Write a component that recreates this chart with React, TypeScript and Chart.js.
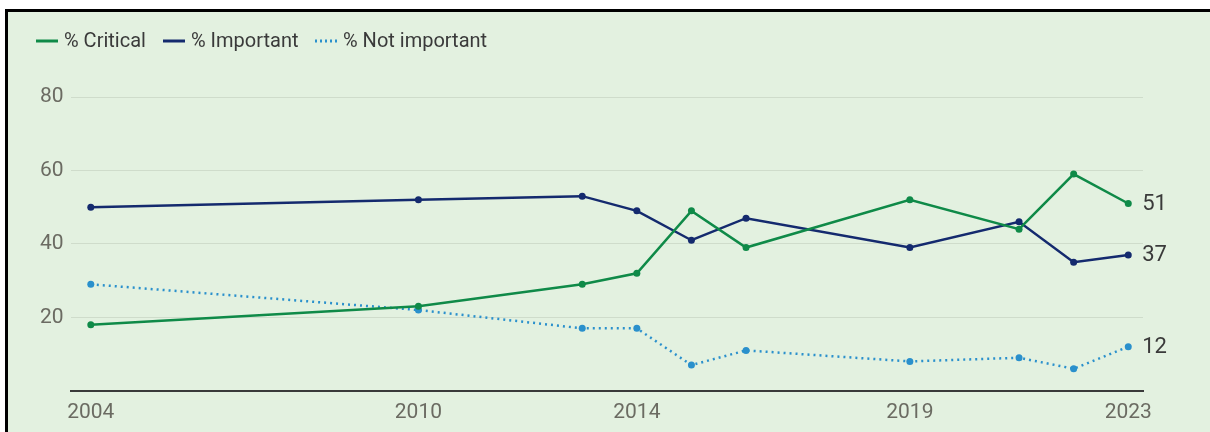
import React, { useEffect, useRef } from "react";
import { Chart, registerables } from "chart.js";

Chart.register(...registerables);

const years = [2004, 2010, 2013, 2014, 2015, 2016, 2019, 2021, 2022, 2023];
const critical = [18, 23, 29, 32, 49, 39, 52, 44, 59, 51];
const important = [50, 52, 53, 49, 41, 47, 39, 46, 35, 37];
const notImportant = [29, 22, 17, 17, 7, 11, 8, 9, 6, 12];
const xTickYears = [2004, 2010, 2014, 2019, 2023];
const yTickValues = [20, 40, 60, 80];
const seriesNames = ["% Critical", "% Important", "% Not important"];

const GREEN = "#0f8a48";
const NAVY = "#142a6e";
const BLUE = "#2a90cc";
const BG = "#e3f1e0";
const FONT = "Roboto, 'Liberation Sans', sans-serif";

const toPoints = (vals: number[]) => vals.map((v, i) => ({ x: years[i], y: v }));

const customPlugin = {
  id: "custom",
  afterDraw(chart: any) {
    const ctx = chart.ctx;
    ctx.save();
    const items = [
      { label: seriesNames[0], color: GREEN, dash: [] as number[], x: 36 },
      { label: seriesNames[1], color: NAVY, dash: [] as number[], x: 163 },
      { label: seriesNames[2], color: BLUE, dash: [2, 3], x: 315 },
    ];
    ctx.font = `20px ${FONT}`;
    ctx.textBaseline = "middle";
    items.forEach((it) => {
      ctx.strokeStyle = it.color;
      ctx.lineWidth = 3;
      ctx.setLineDash(it.dash);
      ctx.beginPath();
      ctx.moveTo(it.x, 41);
      ctx.lineTo(it.x + 22, 41);
      ctx.stroke();
      ctx.setLineDash([]);
      ctx.fillStyle = "#3a3a3a";
      ctx.textAlign = "left";
      ctx.fillText(it.label, it.x + 28, 42);
    });
    ctx.font = `22px ${FONT}`;
    ctx.fillStyle = "#3a3a3a";
    chart.data.datasets.forEach((ds: any, i: number) => {
      const meta = chart.getDatasetMeta(i);
      const last = meta.data[meta.data.length - 1];
      const v = ds.data[ds.data.length - 1].y;
      ctx.textAlign = "left";
      ctx.textBaseline = "middle";
      ctx.fillText(String(v), last.x + 14, last.y + 1);
    });
    ctx.restore();
  },
};

export default function App() {
  const ref = useRef<HTMLCanvasElement>(null);
  useEffect(() => {
    document.body.style.margin = "0";
    const chart = new Chart(ref.current!, {
      type: "line",
      data: {
        datasets: [
          {
            label: seriesNames[0],
            data: toPoints(critical),
            borderColor: GREEN,
            backgroundColor: GREEN,
            borderWidth: 2.5,
            pointRadius: 3.5,
            pointBorderWidth: 0,
            tension: 0,
          },
          {
            label: seriesNames[1],
            data: toPoints(important),
            borderColor: NAVY,
            backgroundColor: NAVY,
            borderWidth: 2.5,
            pointRadius: 3.5,
            pointBorderWidth: 0,
            tension: 0,
          },
          {
            label: seriesNames[2],
            data: toPoints(notImportant),
            borderColor: BLUE,
            backgroundColor: BLUE,
            borderWidth: 2.5,
            borderDash: [2, 4],
            pointRadius: 3.5,
            pointBorderWidth: 0,
            tension: 0,
          },
        ],
      },
      options: {
        animation: false,
        responsive: false,
        maintainAspectRatio: false,
        layout: { padding: { left: 33, top: 97, right: 67, bottom: 6 } },
        plugins: { legend: { display: false }, tooltip: { enabled: false } },
        scales: {
          x: {
            type: "linear",
            min: 2003.63,
            max: 2023.27,
            afterBuildTicks: (axis: any) => {
              axis.ticks = xTickYears.map((v) => ({ value: v }));
            },
            ticks: {
              color: "#6b6b62",
              font: { family: FONT, size: 21 },
              padding: 9,
              maxRotation: 0,
              callback: (v: any) => String(v),
            },
            grid: { display: false, drawTicks: false },
            border: { display: true, color: "#3a3a3a", width: 2 },
          },
          y: {
            min: 0,
            max: 80,
            afterBuildTicks: (axis: any) => {
              axis.ticks = yTickValues.map((v) => ({ value: v }));
            },
            ticks: {
              color: "#6b6b62",
              font: { family: FONT, size: 21 },
              padding: 7,
            },
            grid: { color: "#cfdccb", lineWidth: 1, drawTicks: false },
            border: { display: false },
          },
        },
      },
      plugins: [customPlugin],
    });
    return () => chart.destroy();
  }, []);
  return (
    <div
      style={{
        position: "absolute",
        left: 5,
        top: 9,
        width: 1205,
        height: 423,
        background: BG,
        borderLeft: "3px solid #000",
        borderTop: "3px solid #000",
        overflow: "hidden",
      }}
    >
      <canvas
        ref={ref}
        width={1210}
        height={440}
        style={{ position: "absolute", left: -8, top: -12, display: "block" }}
      />
    </div>
  );
}
